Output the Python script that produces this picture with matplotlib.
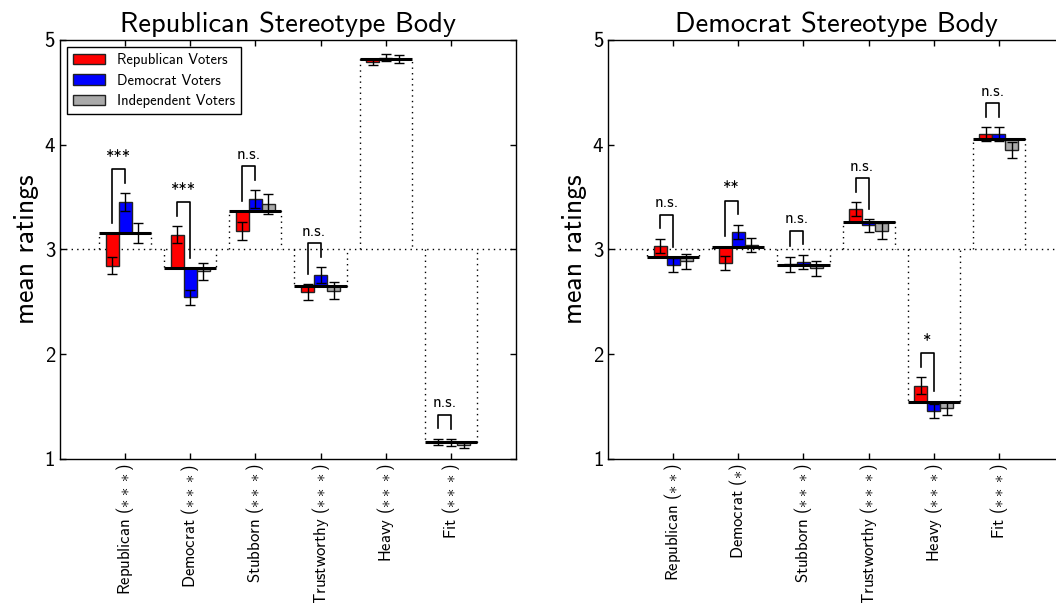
import numpy as np
import matplotlib
matplotlib.use('Agg')
import matplotlib.pyplot as plt
from matplotlib.patches import Patch

plt.rcParams['font.family'] = 'cmss10'
plt.rcParams['mathtext.fontset'] = 'cm'
plt.rcParams['axes.unicode_minus'] = False

traits = ['Republican', 'Democrat', 'Stubborn', 'Trustworthy', 'Heavy', 'Fit']
voters = ['Republican Voters', 'Democrat Voters', 'Independent Voters']
colors = ['#ff0000', '#0000ff', '#aaaaaa']

# Republican stereotype body
rep_trait_sig = ['***', '***', '***', '***', '***', '***']
rep_overall = [3.153, 2.822, 3.366, 2.650, 4.818, 1.160]
rep_R = [2.845, 3.140, 3.175, 2.590, 4.790, 1.160]
rep_D = [3.450, 2.540, 3.480, 2.755, 4.832, 1.155]
rep_I = [3.155, 2.790, 3.435, 2.605, 4.818, 1.128]
rep_err_R = [0.084, 0.083, 0.084, 0.076, 0.033, 0.032]
rep_err_D = [0.084, 0.076, 0.084, 0.073, 0.033, 0.033]
rep_err_I = [0.092, 0.083, 0.097, 0.081, 0.035, 0.027]
rep_sig = ['***', '***', 'n.s.', 'n.s.', '', 'n.s.']

# Democrat stereotype body
dem_trait_sig = ['**', '*', '***', '***', '***', '***']
dem_overall = [2.924, 3.025, 2.854, 3.261, 1.545, 4.054]
dem_R = [3.035, 2.873, 2.857, 3.385, 1.697, 4.102]
dem_D = [2.850, 3.169, 2.879, 3.229, 1.455, 4.102]
dem_I = [2.885, 3.041, 2.818, 3.175, 1.480, 3.949]
dem_err_R = [0.067, 0.067, 0.073, 0.067, 0.080, 0.064]
dem_err_D = [0.064, 0.067, 0.070, 0.060, 0.067, 0.064]
dem_err_I = [0.070, 0.068, 0.073, 0.073, 0.064, 0.075]
dem_sig = ['n.s.', '**', 'n.s.', 'n.s.', '*', 'n.s.']

dot = (0, (1, 3))


def draw_panel(ax, title, overall, groups, errs, sig, trait_sig):
  x = np.arange(len(traits))
  overall = np.array(overall)
  w = 0.2
  # dotted boxes from neutral line to the overall mean
  ax.axhline(3, color='black', ls=dot, lw=1, zorder=1)
  for i in range(len(x)):
    ax.plot([x[i] - 0.4, x[i] - 0.4, x[i] + 0.4, x[i] + 0.4],
            [3, overall[i], overall[i], 3], color='black', ls=dot, lw=1, zorder=1)
  for k in range(3):
    vals = np.array(groups[k])
    ax.bar(x + (k - 1) * w, vals - overall, w, bottom=overall, color=colors[k],
           edgecolor='#222222', lw=1, zorder=2)
    ax.errorbar(x + (k - 1) * w, vals, yerr=errs[k], fmt='none', ecolor='black',
                elinewidth=1, capsize=3.5, capthick=1, zorder=3)
  ax.hlines(overall, x - 0.4, x + 0.4, color='black', lw=2.2, zorder=4)
  # significance brackets between Republican and Democrat voters
  for i in range(len(x)):
    if not sig[i]:
      continue
    left = max(overall[i], groups[0][i] + errs[0][i]) + 0.1
    right = max(overall[i], groups[1][i] + errs[1][i]) + 0.1
    top = max(left, right) + 0.13
    xl = x[i] - w
    xr = x[i]
    ax.plot([xl, xl, xr, xr], [left, top, top, right], color='black', lw=1.2, zorder=5)
    ax.text((xl + xr) / 2, top + 0.04, sig[i], ha='center', va='bottom', fontsize=12)
  ax.set_xlim(-1, 6)
  ax.set_ylim(1, 5)
  ax.set_yticks([1, 2, 3, 4, 5])
  ax.set_xticks(x)
  ax.set_xticklabels([t + ' ($' + s + '$)' for t, s in zip(traits, trait_sig)],
                     rotation=90, fontsize=12)
  ax.tick_params(direction='in', top=True, right=True, length=4, width=1)
  ax.tick_params(axis='y', labelsize=15)
  ax.set_ylabel('mean ratings', fontsize=20)
  ax.set_title(title, fontsize=20.5)
  for s in ax.spines.values():
    s.set_linewidth(1)


fig = plt.figure(figsize=(10.56, 6.03), dpi=100)
ax1 = fig.add_axes([0.0568, 0.2393, 0.4318, 0.6944])
ax2 = fig.add_axes([0.5758, 0.2393, 0.4318, 0.6944])

draw_panel(ax1, 'Republican Stereotype Body', rep_overall, [rep_R, rep_D, rep_I],
           [rep_err_R, rep_err_D, rep_err_I], rep_sig, rep_trait_sig)
draw_panel(ax2, 'Democrat Stereotype Body', dem_overall, [dem_R, dem_D, dem_I],
           [dem_err_R, dem_err_D, dem_err_I], dem_sig, dem_trait_sig)

handles = [Patch(facecolor=c, edgecolor='#222222', lw=1) for c in colors]
leg = ax1.legend(handles, voters, loc='upper left', fontsize=10.5, fancybox=False,
                 edgecolor='black', framealpha=1, handlelength=2.2, borderaxespad=0.5,
                 labelspacing=0.45)
leg.get_frame().set_linewidth(1)

fig.savefig('out.png', dpi=100)
